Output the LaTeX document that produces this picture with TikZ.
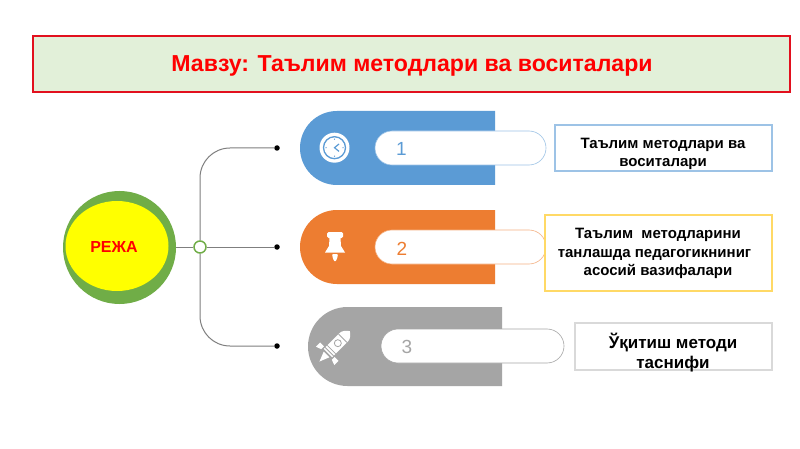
\documentclass[tikz,border=0pt]{standalone}
\usetikzlibrary{shapes.geometric,calc}
\usepackage{fontspec}
\setmainfont{Liberation Sans}
\definecolor{tblue}{HTML}{5B9BD5}
\definecolor{torange}{HTML}{ED7D31}
\definecolor{tgray}{HTML}{A5A5A5}
\definecolor{bblue}{HTML}{9DC3E6}
\definecolor{byellow}{HTML}{FFD966}
\definecolor{bgray}{HTML}{D9D9D9}
\definecolor{tgreen}{HTML}{70AD47}
\definecolor{tbg}{HTML}{E2F0D9}
\definecolor{linegray}{HTML}{7F7F7F}
\definecolor{titlered}{HTML}{E2101E}
\definecolor{pureyellow}{RGB}{255,255,0}
\newcommand{\fs}[1]{\fontsize{#1}{#1}\selectfont}
\tikzset{
  textbox/.style={draw=#1,line width=2.2pt,fill=white,inner sep=0pt},
  pill/.style={draw=#1,line width=0.6pt,fill=white,rounded corners=17pt,inner sep=0pt,minimum height=34pt},
  numlabel/.style={font=\fs{19},inner sep=0pt,text=#1},
  boxtext/.style={font=\fs{15}\bfseries,inner sep=0pt,text=black,anchor=base},
  dotend/.style={circle,fill=black,minimum size=5.5pt,inner sep=0pt},
  branch/.style={draw=linegray,line width=1pt},
}
\begin{document}
\begin{tikzpicture}[x=1pt,y=-1pt]
\useasboundingbox (0,0) rectangle (800,449);
\fill[white] (0,0) rectangle (800,449);
% title
\node[draw=titlered,line width=2pt,fill=tbg,minimum width=757pt,minimum height=56pt,inner sep=0pt] (title) at (411.5,64) {};
\node[font=\fs{23.1}\bfseries,text=red,inner sep=0pt,anchor=base] (titletext) at (412,71.3) {Мавзу: Таълим методлари ва воситалари};
% hub
\node[circle,fill=tgreen,minimum size=113pt,inner sep=0pt] (plan) at (119.5,247.5) {};
\node[ellipse,fill=pureyellow,minimum width=103pt,minimum height=90pt,inner sep=0pt] (planin) at (117,246) {};
\node[font=\fs{16}\bfseries,text=red,inner sep=0pt,anchor=base] (plantext) at (114,252.7) {РЕЖА};
% connectors
\node[dotend] (d1) at (277,148) {};
\node[dotend] (d2) at (277,247) {};
\node[dotend] (d3) at (277,346) {};
\node[circle,minimum size=13pt,inner sep=0pt] (hub) at (200,247) {};
\draw[branch] (plan.east |- hub) -- (hub);
\draw[branch] (hub) -- (d2);
\draw[branch,rounded corners=30pt] (hub.north) -- (hub.north |- d1) -- (d1);
\draw[branch,rounded corners=30pt] (hub.south) -- (hub.south |- d3) -- (d3);
\node[circle,draw=tgreen,line width=1.5pt,fill=white,minimum size=12pt,inner sep=0pt] (hubring) at (hub) {};
% tab 1
\fill[tblue] (495,111) -- (337,111) arc[start angle=270,end angle=90,radius=37] -- (495,185) -- cycle;
\node[pill=bblue,minimum width=171pt] (p1) at (460.5,148) {};
\node[numlabel=tblue,anchor=west] (n1) at (396,148.5) {1};
% clock
\node[circle,fill=white,minimum size=30pt,inner sep=0pt] (c1) at (334.5,147.7) {};
\draw[tblue,line width=1.3pt] (c1) circle[radius=11];
\draw[tblue,line width=1.2pt] (339,144) -- (334.5,147.7) -- (339,151.4);
\foreach \a in {0,90,180,270} \fill[tblue] ($(c1)+(\a:8.5)$) circle[radius=0.7];
% tab 2
\fill[torange] (495,210) -- (337,210) arc[start angle=270,end angle=90,radius=37] -- (495,284) -- cycle;
\node[pill=torange!60,minimum width=171pt] (p2) at (460.5,247) {};
\node[numlabel=torange,anchor=west] (n2) at (396.5,248.5) {2};
% pin
\fill[white,rounded corners=1.5pt] (327,232) rectangle (343,238);
\fill[white] (329.5,238) -- (340.5,238) -- (341,246) -- (345,252.5) -- (325,252.5) -- (329,246) -- cycle;
\fill[white,rounded corners=1pt] (332,254) -- (338,254) -- (337,259) -- (335,262) -- (333,259) -- cycle;
% tab 3
\fill[tgray] (502,307) -- (347.5,307) arc[start angle=270,end angle=90,radius=39.5] -- (502,386) -- cycle;
\node[pill=tgray,minimum width=183pt] (p3) at (472.5,346) {};
\node[numlabel=tgray,anchor=west] (n3) at (401.5,347) {3};
% rocket
\begin{scope}[shift={(335,346)},x={(0.707pt,0.707pt)},y={(0.707pt,-0.707pt)}]
  \fill[white] (-10,-6) -- (12,-6) .. controls (16,-6) and (19,-3) .. (21,0) .. controls (19,3) and (16,6) .. (12,6) -- (-10,6) -- cycle;
  \fill[white] (-8,-7.5) -- (-8,-13) -- (-14,-13) -- (-12,-7.5) -- cycle;
  \fill[white] (-8,7.5) -- (-8,13) -- (-14,13) -- (-12,7.5) -- cycle;
  \fill[white] (-12,-4) -- (-12,4) -- (-22,0) -- cycle;
  \draw[tgray,line width=0.8pt] (4,0) circle[radius=3.5];
  \draw[tgray,line width=0.8pt] (-5,-6) -- (-5,6) (-8,-6) -- (-8,6);
  \draw[tgray,line width=0.8pt] (11,-6) -- (11,6);
\end{scope}
% text boxes
\node[textbox=bblue,minimum width=217pt,minimum height=46pt] (b1) at (663.5,148) {};
\node[boxtext] (t1a) at (663,148.5) {Таълим методлари ва};
\node[boxtext] (t1b) at (663,166.2) {воситалари};
\node[textbox=byellow,minimum width=227pt,minimum height=76pt] (b2) at (658.5,253) {};
\node[boxtext] (t2a) at (658,238.5) {Таълим\ \ методларини};
\node[boxtext] (t2b) at (654.5,257.2) {танлашда педагогикниниг};
\node[boxtext] (t2c) at (658,275.5) {асосий вазифалари};
\node[textbox=bgray,minimum width=197pt,minimum height=47pt] (b3) at (673.5,346.5) {};
\node[boxtext,font=\fs{17}\bfseries] (t3a) at (673,348) {Ўқитиш методи};
\node[boxtext,font=\fs{17}\bfseries] (t3b) at (673,368) {таснифи};
\end{tikzpicture}
\end{document}
